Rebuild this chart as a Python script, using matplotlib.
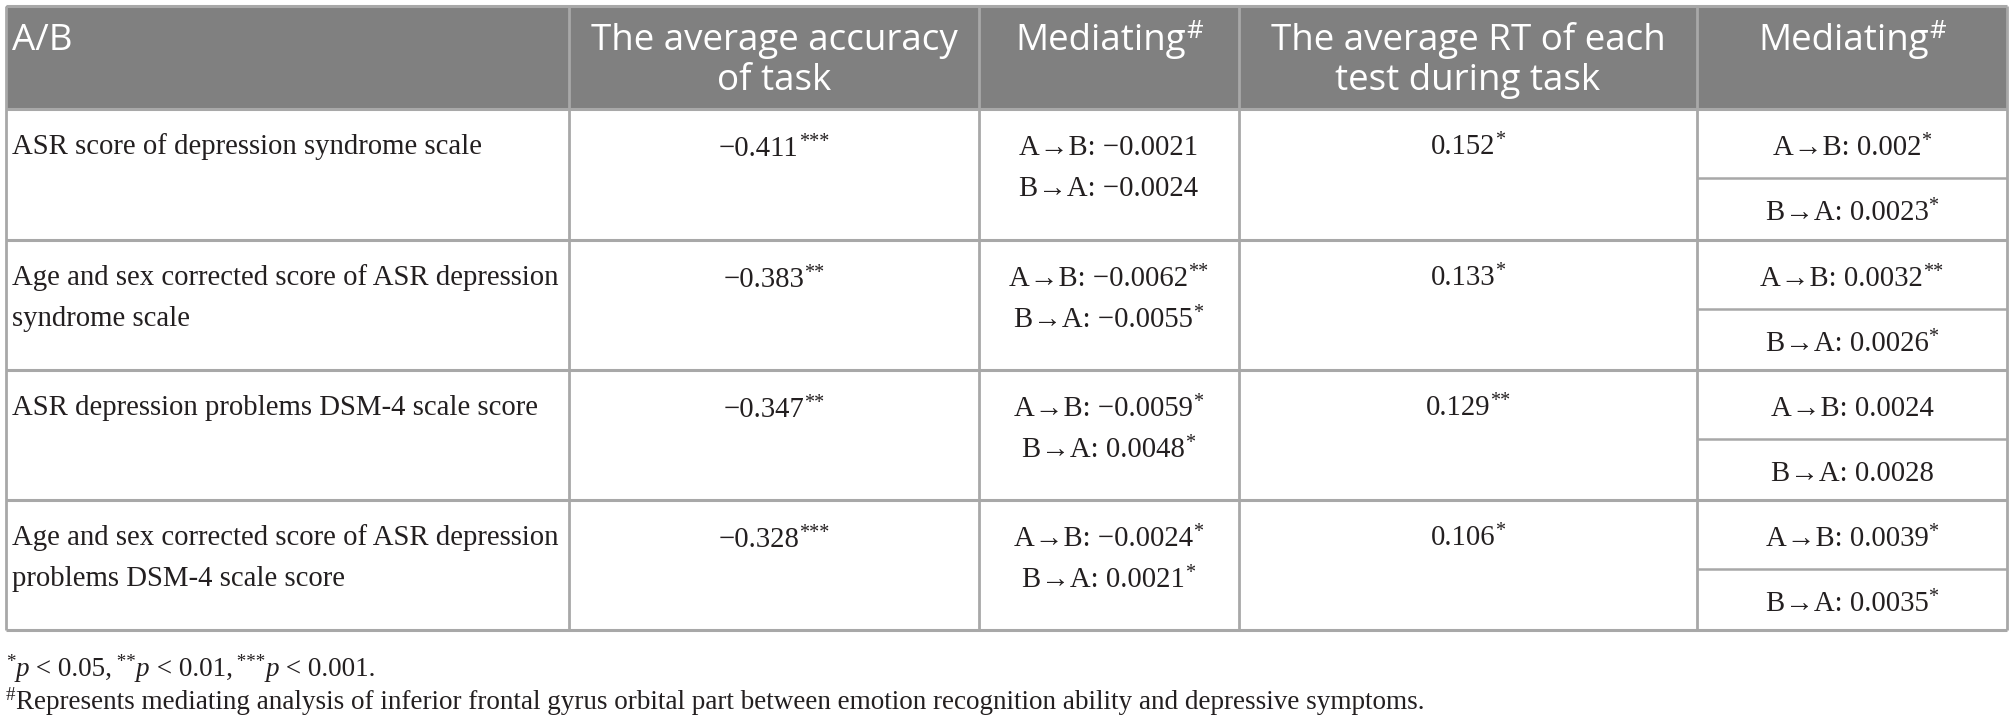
import matplotlib
matplotlib.use("Agg")
import matplotlib.pyplot as plt
from matplotlib.patches import Rectangle

# ---- table content ----
headers = ["A/B", "The average accuracy\nof task", "Mediating",
           "The average RT of each\ntest during task", "Mediating"]
header_sup = ["", "", "#", "", "#"]

row_labels = [
    ["ASR score of depression syndrome scale"],
    ["Age and sex corrected score of ASR depression", "syndrome scale"],
    ["ASR depression problems DSM-4 scale score"],
    ["Age and sex corrected score of ASR depression", "problems DSM-4 scale score"],
]
acc = ["\u22120.411", "\u22120.383", "\u22120.347", "\u22120.328"]
acc_sig = ["***", "**", "**", "***"]
med_acc_ab = ["\u22120.0021", "\u22120.0062", "\u22120.0059", "\u22120.0024"]
med_acc_ab_sig = ["", "**", "*", "*"]
med_acc_ba = ["\u22120.0024", "\u22120.0055", "0.0048", "0.0021"]
med_acc_ba_sig = ["", "*", "*", "*"]
rt = ["0.152", "0.133", "0.129", "0.106"]
rt_sig = ["*", "*", "**", "*"]
med_rt_ab = ["0.002", "0.0032", "0.0024", "0.0039"]
med_rt_ab_sig = ["*", "**", "", "*"]
med_rt_ba = ["0.0023", "0.0026", "0.0028", "0.0035"]
med_rt_ba_sig = ["*", "*", "", "*"]

footnote_1 = [("*", "sup"), ("p", "it"), (" < 0.05,", "n"), (" **", "sup"), ("p", "it"),
              (" < 0.01,", "n"), (" ***", "sup"), ("p", "it"), (" < 0.001.", "n")]
footnote_2 = [("#", "sup"), ("Represents mediating analysis of inferior frontal gyrus orbital part "
                             "between emotion recognition ability and depressive symptoms.", "n")]

# ---- layout (pixels) ----
col_edges = [6, 569, 979, 1239, 1697, 2007]
row_edges = [109, 240, 370, 500, 630]
head_top = 6

SERIF = ["Liberation Serif", "DejaVu Serif"]
SANS = ["Open Sans", "DejaVu Sans"]
TXT = "#231f20"
LINE = "#a8a8a8"
BODY_SIZE = 20.7
HEAD_SIZE = 26.5
FOOT_SIZE = 19.5

fig = plt.figure(figsize=(20.14, 7.2), dpi=100)
ax = fig.add_axes([0, 0, 1, 1])
ax.set_xlim(0, 2014)
ax.set_ylim(720, 0)
ax.axis("off")
renderer = fig.canvas.get_renderer()


def text_width(t):
    return t.get_window_extent(renderer=renderer).width


def draw_runs(x, y, parts, size, ha="left", family=SERIF, color=TXT):
    """Draw a sequence of (text, kind) runs on one baseline; kind n/it/sup."""
    arts = []
    widths = []
    for txt, kind in parts:
        s = size * 0.7 if kind == "sup" else size
        st = "italic" if kind == "it" else "normal"
        dy = -size * 100 / 72 * 0.33 if kind == "sup" else 0
        t = ax.text(0, y + dy, txt, fontsize=s, family=family, style=st,
                    color=color, ha="left", va="baseline")
        arts.append(t)
        widths.append(text_width(t))
    total = sum(widths)
    start = x - total / 2 if ha == "center" else x
    for t, w in zip(arts, widths):
        t.set_x(start)
        start += w


def val(x, y, main, sig, size=BODY_SIZE):
    parts = [(main, "n")]
    if sig:
        parts.append((sig, "sup"))
    draw_runs(x, y, parts, size, ha="center")


# header background
ax.add_patch(Rectangle((col_edges[0], head_top), col_edges[-1] - col_edges[0],
                       row_edges[0] - head_top, facecolor="#808080", edgecolor="none"))

# grid lines
ax.hlines([head_top], col_edges[0], col_edges[-1], color=LINE, lw=2.2)
ax.hlines(row_edges, col_edges[0], col_edges[-1], color=LINE, lw=2.2)
ax.vlines(col_edges, head_top, row_edges[-1], color=LINE, lw=2.0)
for top in row_edges[:-1]:
    ax.hlines(top + 68.5, col_edges[4], col_edges[5], color=LINE, lw=1.8)

# header text
draw_runs(12, 50, [(headers[0], "n")], HEAD_SIZE, family=SANS, color="white")
for i in range(1, 5):
    cx = (col_edges[i] + col_edges[i + 1]) / 2
    for k, line in enumerate(headers[i].split("\n")):
        parts = [(line, "n")]
        if header_sup[i] and k == 0:
            parts.append((header_sup[i], "sup"))
        draw_runs(cx, 50 + 40 * k, parts, HEAD_SIZE, ha="center", family=SANS, color="white")

# body
c = [(col_edges[i] + col_edges[i + 1]) / 2 for i in range(5)]
for r, top in enumerate(row_edges[:-1]):
    for k, line in enumerate(row_labels[r]):
        draw_runs(12, top + 45 + 41 * k, [(line, "n")], BODY_SIZE)
    val(c[1], top + 47, acc[r], acc_sig[r])
    val(c[2], top + 46, "A\u2192B: " + med_acc_ab[r], med_acc_ab_sig[r])
    val(c[2], top + 87, "B\u2192A: " + med_acc_ba[r], med_acc_ba_sig[r])
    val(c[3], top + 45, rt[r], rt_sig[r])
    val(c[4], top + 46, "A\u2192B: " + med_rt_ab[r], med_rt_ab_sig[r])
    val(c[4], top + 111, "B\u2192A: " + med_rt_ba[r], med_rt_ba_sig[r])

# footnotes
draw_runs(6, 676, footnote_1, FOOT_SIZE)
draw_runs(6, 709, footnote_2, FOOT_SIZE)

fig.savefig("out.png", dpi=100, facecolor="white")
